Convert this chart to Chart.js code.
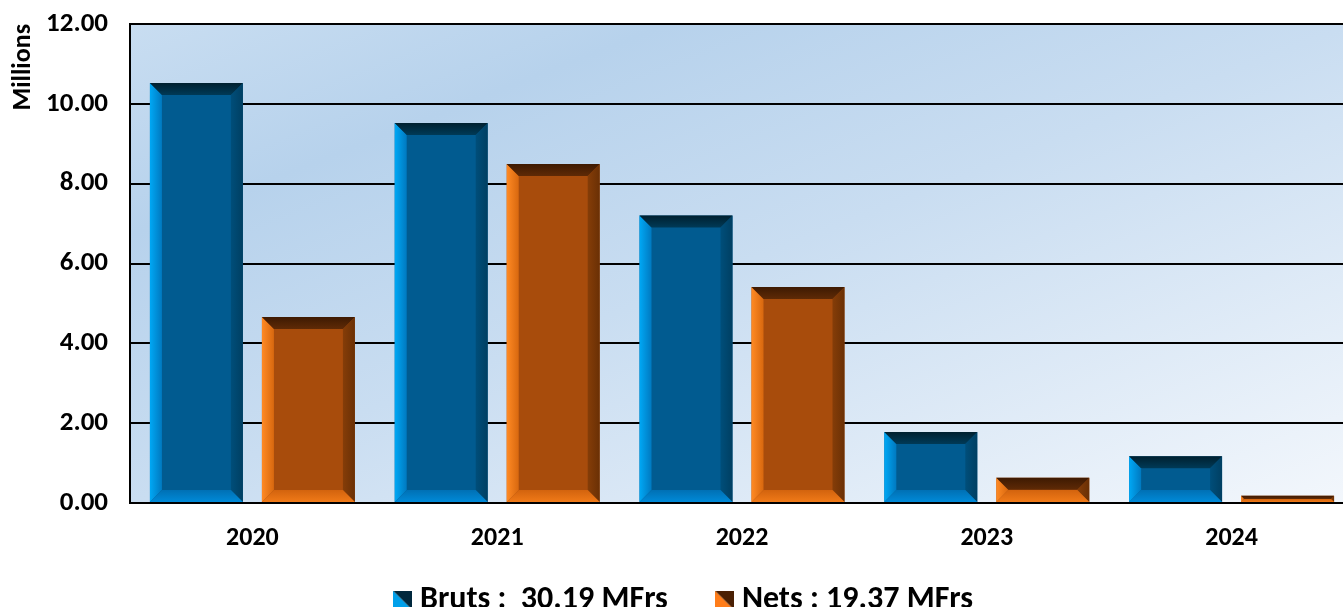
<!DOCTYPE html>
<html>
<head>
<meta charset="utf-8">
<script src="https://cdn.jsdelivr.net/npm/chart.js@4/dist/chart.umd.min.js"></script>
<style>
  html, body { margin: 0; padding: 0; background: #fff; overflow: hidden; }
  #wrap { width: 1374px; height: 660px; }
</style>
</head>
<body>
<div id="wrap"><canvas id="chart" width="1374" height="660"></canvas></div>
<script>
const years = ['2020', '2021', '2022', '2023', '2024'];
const bruts = [10.52, 9.52, 7.20, 1.78, 1.17];
const nets = [4.66, 8.49, 5.41, 0.63, 0.18];
const legendLabels = ['Bruts :  30.19 MFrs', 'Nets : 19.37 MFrs'];
const yTicks = [0, 2, 4, 6, 8, 10, 12];

const FONT = 'Carlito, Lato, "Open Sans", sans-serif';

// bevel colours: face, left, top, right, bottom
const bevels = [
    { face: '#015b90', left: ['#00a8f5', '#0079c0'], top: ['#00202f', '#003a57'], right: ['#003f62', '#004e7a'], bottom: ['#0070b4', '#008ad8'] },
    { face: '#a84c0c', left: ['#ff8a24', '#d8680f'], top: ['#3e1a02', '#5f2a06'], right: ['#6a3005', '#853d08'], bottom: ['#d2630e', '#f07a18'] }
];

function legendIcon(light, dark) {
    const s = 19;
    const c = document.createElement('canvas');
    c.width = s; c.height = s;
    const g = c.getContext('2d');
    g.fillStyle = light;
    g.beginPath(); g.moveTo(0, 0); g.lineTo(s, s); g.lineTo(0, s); g.closePath(); g.fill();
    g.fillStyle = dark;
    g.beginPath(); g.moveTo(0, 0); g.lineTo(s, 0); g.lineTo(s, s); g.closePath(); g.fill();
    return c;
}
const icons = [legendIcon('#00a0ea', '#00283d'), legendIcon('#ff7d1a', '#4a2004')];

const plotBg = {
    id: 'plotBg',
    beforeDraw(chart) {
        const a = chart.chartArea;
        const ctx = chart.ctx;
        const W = a.right - a.left, H = a.bottom - a.top;
        const k = 2 * W * H / (W * W + H * H);
        const grd = ctx.createLinearGradient(a.left, a.top, a.left + H * k, a.top + W * k);
        grd.addColorStop(0, '#c8ddf1');
        grd.addColorStop(0.22, '#b7d2ec');
        grd.addColorStop(0.5, '#c9ddf1');
        grd.addColorStop(1, '#f3f7fc');
        ctx.save();
        ctx.fillStyle = grd;
        ctx.fillRect(a.left, a.top, W, H);
        ctx.restore();
    }
};

// pull the legend up (and a bit right) so it sits just under the year labels
const legendShift = {
    id: 'legendShift',
    afterLayout(chart) {
        const lg = chart.legend;
        if (lg) {
            lg.top -= 34; lg.bottom -= 34;
            lg.left += 10; lg.right += 10;
        }
    }
};

function poly(ctx, pts, fill) {
    ctx.fillStyle = fill;
    ctx.beginPath();
    ctx.moveTo(pts[0][0], pts[0][1]);
    for (let i = 1; i < pts.length; i++) ctx.lineTo(pts[i][0], pts[i][1]);
    ctx.closePath();
    ctx.fill();
}

const bevelBars = {
    id: 'bevelBars',
    afterDatasetsDraw(chart) {
        const ctx = chart.ctx;
        chart.data.datasets.forEach((ds, di) => {
            const col = bevels[di];
            chart.getDatasetMeta(di).data.forEach((bar) => {
                const l = bar.x - bar.width / 2, r = bar.x + bar.width / 2;
                const t = bar.y, b = bar.base;
                const h = b - t;
                const bx = Math.min(12, h / 2);
                const by = Math.min(12, h / 2);
                ctx.save();
                let g = ctx.createLinearGradient(l, 0, l + bx, 0);
                g.addColorStop(0, col.left[0]); g.addColorStop(1, col.left[1]);
                poly(ctx, [[l, t], [l + bx, t + by], [l + bx, b - by], [l, b]], g);
                g = ctx.createLinearGradient(r, 0, r - bx, 0);
                g.addColorStop(0, col.right[0]); g.addColorStop(1, col.right[1]);
                poly(ctx, [[r, t], [r, b], [r - bx, b - by], [r - bx, t + by]], g);
                g = ctx.createLinearGradient(0, t, 0, t + by);
                g.addColorStop(0, col.top[0]); g.addColorStop(1, col.top[1]);
                poly(ctx, [[l, t], [r, t], [r - bx, t + by], [l + bx, t + by]], g);
                g = ctx.createLinearGradient(0, b - by, 0, b);
                g.addColorStop(0, col.bottom[0]); g.addColorStop(1, col.bottom[1]);
                poly(ctx, [[l, b], [l + bx, b - by], [r - bx, b - by], [r, b]], g);
                ctx.restore();
            });
        });
    }
};

const ctx = document.getElementById('chart').getContext('2d');
const myChart = new Chart(ctx, {
    type: 'bar',
    data: {
        labels: years,
        datasets: [{
            label: legendLabels[0],
            data: bruts,
            backgroundColor: bevels[0].face,
            borderWidth: 0
        }, {
            label: legendLabels[1],
            data: nets,
            backgroundColor: bevels[1].face,
            borderWidth: 0
        }]
    },
    options: {
        responsive: false,
        animation: false,
        layout: { padding: { top: 24, right: 20, left: 0, bottom: 0 } },
        datasets: {
            bar: { categoryPercentage: 0.915, barPercentage: 0.83 }
        },
        scales: {
            x: {
                grid: { display: false, drawTicks: false },
                border: { display: true, color: '#000', width: 2 },
                ticks: { color: '#000', padding: 20, font: { family: FONT, size: 26, weight: 'bold' } },
                afterFit(scale) { scale.height = 60; }
            },
            y: {
                min: 0,
                max: 12,
                afterBuildTicks(scale) { scale.ticks = yTicks.map(v => ({ value: v })); },
                grid: { color: '#000', lineWidth: 2, drawTicks: false },
                border: { display: true, color: '#000', width: 2 },
                ticks: {
                    color: '#000',
                    padding: 22,
                    font: { family: FONT, size: 27, weight: 'bold' },
                    callback: v => v.toFixed(2)
                },
                title: {
                    display: true,
                    text: 'Millions',
                    align: 'end',
                    color: '#000',
                    padding: { top: 8, bottom: 0 },
                    font: { family: FONT, size: 26, weight: 'bold' }
                },
                afterFit(scale) {
                    scale.width = 130;
                    scale.paddingTop = 0;
                    scale.paddingBottom = 0;
                }
            }
        },
        plugins: {
            tooltip: { enabled: false },
            legend: {
                position: 'bottom',
                labels: {
                    color: '#000',
                    usePointStyle: true,
                    pointStyleWidth: 3,
                    padding: 55,
                    boxWidth: 19,
                    boxHeight: 19,
                    font: { family: FONT, size: 32, weight: 'bold' },
                    generateLabels(chart) {
                        const items = Chart.defaults.plugins.legend.labels.generateLabels(chart);
                        items.forEach((it, i) => { it.pointStyle = icons[i]; });
                        return items;
                    }
                }
            }
        }
    },
    plugins: [plotBg, legendShift, bevelBars]
});
</script>
</body>
</html>
